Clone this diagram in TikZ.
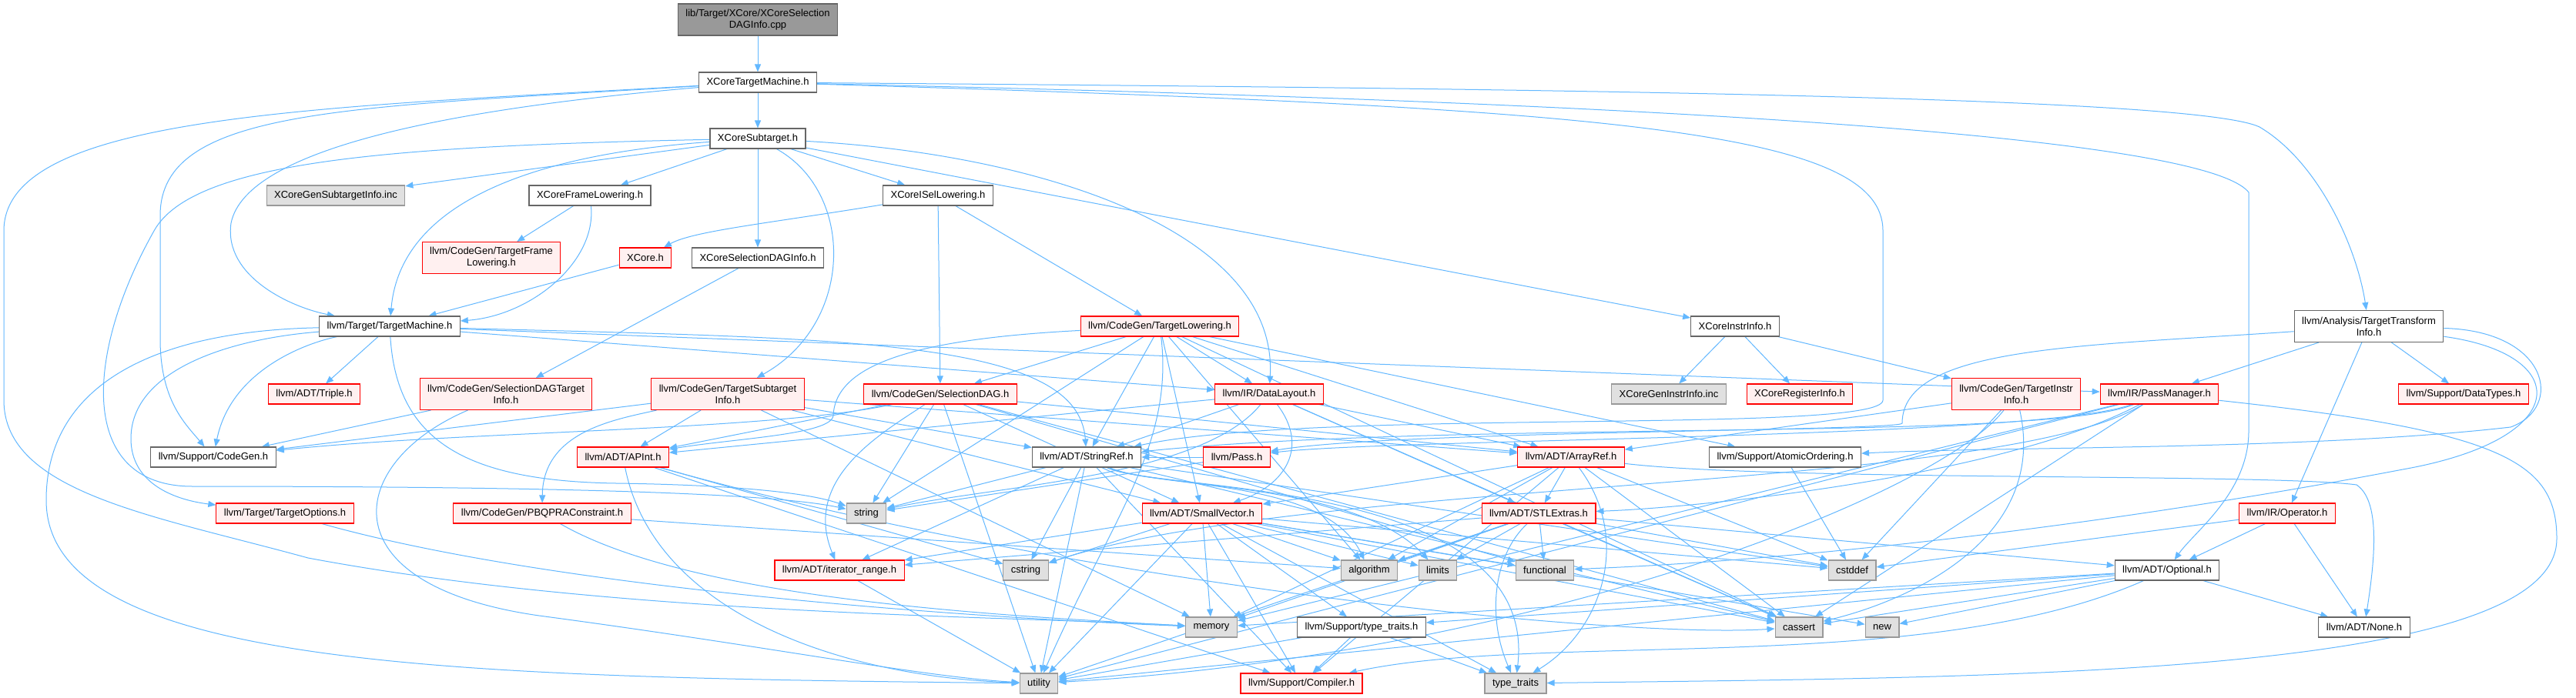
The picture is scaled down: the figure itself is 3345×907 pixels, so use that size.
\documentclass[tikz,border=0pt]{standalone}
\usepackage{fontspec}
\setmainfont{Liberation Sans}
\usepackage{tikz}
\usetikzlibrary{arrows.meta,backgrounds}
\definecolor{cEdge}{HTML}{63B8FF}
\definecolor{cRed}{HTML}{FF0000}
\definecolor{cRedFill}{HTML}{FFF0F0}
\definecolor{cSys}{HTML}{E0E0E0}
\definecolor{cSysLine}{HTML}{999999}
\definecolor{cLine}{HTML}{666666}
\definecolor{cRoot}{HTML}{999999}
\newcommand{\incfont}{\fontsize{13}{15}\selectfont}
\tikzset{
  hbase/.style={draw,align=center,font=\incfont,inner xsep=10pt,inner ysep=2pt,minimum height=26pt,line width=1.1pt},
  wnode/.style={hbase,fill=white,draw=cLine}, rnode/.style={hbase,fill=cRedFill,draw=cRed},
  snode/.style={hbase,fill=cSys,draw=cSysLine}, mnode/.style={hbase,fill=cRoot,draw=cLine},
  tall/.style={minimum height=41pt},
  inc/.style={-{Triangle[length=10pt,width=8pt]},draw=cEdge,line width=1pt}}

\begin{document}
\begin{tikzpicture}[x=1pt,y=-1pt]
\path[use as bounding box] (0,0) rectangle (3345,907);
\node[mnode,tall] (root) at (984,25.5) {lib/Target/XCore/XCoreSelection\\DAGInfo.cpp};
\node[wnode] (xtm) at (984,107) {XCoreTargetMachine.h};
\node[wnode] (xst) at (984,180) {XCoreSubtarget.h};
\node[snode] (gsti) at (436,254) {XCoreGenSubtargetInfo.inc};
\node[wnode] (xfl) at (766,254) {XCoreFrameLowering.h};
\node[wnode] (xisl) at (1218,254) {XCoreISelLowering.h};
\node[rnode,tall] (tfl) at (638,335) {llvm/CodeGen/TargetFrame\\Lowering.h};
\node[rnode] (xcore) at (838,335) {XCore.h};
\node[wnode] (xsdi) at (984,335) {XCoreSelectionDAGInfo.h};
\node[wnode] (tm) at (506,424) {llvm/Target/TargetMachine.h};
\node[rnode] (tl) at (1506,424) {llvm/CodeGen/TargetLowering.h};
\node[wnode] (xii) at (2253,424) {XCoreInstrInfo.h};
\node[wnode,tall] (tti) at (3076,424) {llvm/Analysis/TargetTransform\\Info.h};
\node[rnode] (triple) at (408,512) {llvm/ADT/Triple.h};
\node[rnode,tall] (sdti) at (657,512) {llvm/CodeGen/SelectionDAGTarget\\Info.h};
\node[rnode,tall] (tsi) at (945,512) {llvm/CodeGen/TargetSubtarget\\Info.h};
\node[rnode] (sdag) at (1221,512) {llvm/CodeGen/SelectionDAG.h};
\node[rnode] (dl) at (1648,512) {llvm/IR/DataLayout.h};
\node[snode] (gii) at (2167,512) {XCoreGenInstrInfo.inc};
\node[rnode] (xri) at (2337,512) {XCoreRegisterInfo.h};
\node[rnode,tall] (tii) at (2618,512) {llvm/CodeGen/TargetInstr\\Info.h};
\node[rnode] (pm) at (2804,512) {llvm/IR/PassManager.h};
\node[rnode] (dtypes) at (3199,512) {llvm/Support/DataTypes.h};
\node[wnode] (cg) at (277,594) {llvm/Support/CodeGen.h};
\node[rnode] (apint) at (809,594) {llvm/ADT/APInt.h};
\node[wnode] (sref) at (1411,594) {llvm/ADT/StringRef.h};
\node[rnode] (pass) at (1606,594) {llvm/Pass.h};
\node[rnode] (aref) at (2040,594) {llvm/ADT/ArrayRef.h};
\node[wnode] (atomic) at (2318,594) {llvm/Support/AtomicOrdering.h};
\node[rnode] (topt) at (370,667) {llvm/Target/TargetOptions.h};
\node[rnode] (pbqp) at (704,667) {llvm/CodeGen/PBQPRAConstraint.h};
\node[snode] (string) at (1125,667) {string};
\node[rnode] (svec) at (1561,667) {llvm/ADT/SmallVector.h};
\node[rnode] (stl) at (1998,667) {llvm/ADT/STLExtras.h};
\node[rnode] (oper) at (2970,667) {llvm/IR/Operator.h};
\node[rnode] (itr) at (1090,741) {llvm/ADT/iterator\_range.h};
\node[snode] (cstring) at (1332,741) {cstring};
\node[snode] (algo) at (1778,741) {algorithm};
\node[snode] (limits) at (1867,741) {limits};
\node[snode] (func) at (2006,741) {functional};
\node[snode] (cstddef) at (2405,741) {cstddef};
\node[wnode] (opt) at (2814,741) {llvm/ADT/Optional.h};
\node[snode] (memory) at (1573,815) {memory};
\node[wnode] (tt) at (1768,815) {llvm/Support/type\_traits.h};
\node[snode] (cassert) at (2336,815) {cassert};
\node[snode] (new) at (2444,815) {new};
\node[wnode] (none) at (3070,815) {llvm/ADT/None.h};
\node[snode] (utility) at (1349,888) {utility};
\node[rnode] (compiler) at (1690,888) {llvm/Support/Compiler.h};
\node[snode] (stdtt) at (1968,888) {type\_traits};
\begin{pgfonlayer}{background}
\fill[white] (0,0) rectangle (3345,907);
\draw[inc] (root)--(xtm); \draw[inc] (xtm)--(xst);
\draw[inc] (xtm) .. controls (600,140) and (320,190) .. (300,290) .. controls (290,360) and (380,400) .. (tm);
\draw[inc] (xtm) .. controls (450,140) and (208,140) .. (208,280) -- (208,440) .. controls (208,520) and (240,550) .. (cg);
\draw[inc] (xtm) .. controls (400,140) and (5,150) .. (5,300) -- (5,520) .. controls (5,640) and (200,670) .. (400,725) .. controls (800,800) and (1300,800) .. (memory);
\draw[inc] (xtm) .. controls (2000,115) and (2850,125) .. (2934,165) .. controls (3010,210) and (3060,320) .. (tti);
\draw[inc] (xtm) .. controls (1800,125) and (2850,160) .. (2920,250) -- (2920,560) .. controls (2920,640) and (2850,690) .. (opt);
\draw[inc] (xtm) .. controls (2100,140) and (2445,170) .. (2445,300) -- (2445,520) .. controls (2445,565) and (1700,530) .. (sref);
\draw[inc] (xst)--(gsti); \draw[inc] (xst)--(xfl); \draw[inc] (xst)--(xisl); \draw[inc] (xst)--(xsdi); \draw[inc] (xst)--(xii);
\draw[inc] (xst) .. controls (1110,250) and (1110,420) .. (tsi);
\draw[inc] (xst) .. controls (1350,200) and (1660,300) .. (dl);
\draw[inc] (xst) .. controls (700,200) and (520,260) .. (tm);
\draw[inc] (xst) .. controls (500,190) and (250,210) .. (200,300) .. controls (110,460) and (100,632) .. (250,632) .. controls (700,632) and (1000,640) .. (string);
\draw[inc] (xfl)--(tfl);
\draw[inc] (xfl) .. controls (775,340) and (690,410) .. (tm);
\draw[inc] (xisl) .. controls (1000,290) and (900,300) .. (xcore);
\draw[inc] (xisl)--(sdag); \draw[inc] (xisl)--(tl);
\draw[inc] (xcore)--(tm); \draw[inc] (xsdi)--(sdti);
\draw[inc] (tm)--(triple); \draw[inc] (tm)--(dl); \draw[inc] (tm)--(pm);
\draw[inc] (tm) .. controls (400,445) and (300,480) .. (cg);
\draw[inc] (tm) .. controls (300,440) and (170,480) .. (170,570) .. controls (170,630) and (230,650) .. (topt);
\draw[inc] (tm) .. controls (200,430) and (60,500) .. (60,650) .. controls (60,870) and (600,880) .. (utility);
\draw[inc] (tm) .. controls (1100,440) and (1400,440) .. (sref);
\draw[inc] (tm) .. controls (515,570) and (600,625) .. (800,628) .. controls (950,630) and (1050,640) .. (string);
\draw[inc] (tl)--(sdag); \draw[inc] (tl)--(dl); \draw[inc] (tl)--(sref); \draw[inc] (tl)--(svec);
\draw[inc] (tl)--(aref); \draw[inc] (tl)--(atomic); \draw[inc] (tl)--(algo); \draw[inc] (tl)--(cassert); \draw[inc] (tl)--(string);
\draw[inc] (tl) .. controls (1525,580) and (1440,680) .. (utility);
\draw[inc] (tl) .. controls (1200,440) and (1085,470) .. (1082,540) .. controls (1080,565) and (950,570) .. (apint);
\draw[inc] (tsi)--(apint); \draw[inc] (tsi)--(aref); \draw[inc] (tsi)--(svec); \draw[inc] (tsi)--(sref); \draw[inc] (tsi)--(cg); \draw[inc] (tsi)--(memory);
\draw[inc] (tsi) .. controls (800,545) and (705,560) .. (pbqp);
\draw[inc] (sdti)--(cg);
\draw[inc] (sdti) .. controls (450,600) and (420,760) .. (700,800) .. controls (1000,840) and (1200,880) .. (utility);
\draw[inc] (sdag)--(apint); \draw[inc] (sdag)--(aref); \draw[inc] (sdag)--(svec); \draw[inc] (sdag)--(cassert);
\draw[inc] (sdag)--(func); \draw[inc] (sdag)--(string); \draw[inc] (sdag)--(utility);
\draw[inc] (sdag) .. controls (1000,560) and (600,560) .. (cg);
\draw[inc] (sdag) .. controls (1150,560) and (1040,620) .. (itr);
\draw[inc] (dl)--(apint); \draw[inc] (dl)--(aref); \draw[inc] (dl)--(stl); \draw[inc] (dl)--(sref); \draw[inc] (dl)--(cassert);
\draw[inc] (dl) .. controls (1700,580) and (1670,630) .. (svec);
\draw[inc] (dl) .. controls (1560,620) and (1300,630) .. (string);
\draw[inc] (xii)--(xri); \draw[inc] (xii)--(gii); \draw[inc] (xii)--(tii);
\draw[inc] (tii)--(aref); \draw[inc] (tii)--(cstddef);
\draw[inc] (tii) .. controls (2660,700) and (2480,780) .. (cassert);
\draw[inc] (tii) .. controls (2520,640) and (2000,850) .. (utility);
\draw[inc] (pm)--(cassert); \draw[inc] (pm)--(memory); \draw[inc] (pm)--(utility);
\draw[inc] (pm) .. controls (2650,570) and (1800,570) .. (pass);
\draw[inc] (pm) .. controls (2650,575) and (1900,545) .. (sref);
\draw[inc] (pm) .. controls (2600,640) and (1700,620) .. (cstring);
\draw[inc] (pm) .. controls (2600,620) and (2200,660) .. (stl);
\draw[inc] (pm) .. controls (3250,560) and (3320,600) .. (3320,700) .. controls (3320,880) and (2600,880) .. (stdtt);
\draw[inc] (tti)--(pm); \draw[inc] (tti)--(dtypes); \draw[inc] (tti)--(oper);
\draw[inc] (tti) .. controls (2700,450) and (2470,450) .. (2470,550) .. controls (2470,560) and (1800,560) .. (pass);
\draw[inc] (tti) .. controls (3310,430) and (3330,530) .. (3260,555) .. controls (3000,585) and (2600,580) .. (atomic);
\draw[inc] (tti) .. controls (3340,460) and (3345,570) .. (3120,610) .. controls (2700,690) and (2300,730) .. (func);
\draw[inc] (oper)--(none); \draw[inc] (oper)--(opt); \draw[inc] (oper)--(cstddef);
\draw[inc] (opt)--(none); \draw[inc] (opt)--(tt); \draw[inc] (opt)--(cassert); \draw[inc] (opt)--(memory); \draw[inc] (opt)--(new); \draw[inc] (opt)--(utility);
\draw[inc] (opt) .. controls (2500,880) and (2000,820) .. (compiler);
\draw[inc] (pass)--(sref); \draw[inc] (pass)--(string);
\draw[inc] (apint)--(compiler); \draw[inc] (apint)--(cstring);
\draw[inc] (apint) .. controls (1400,760) and (2100,830) .. (cassert);
\draw[inc] (apint) .. controls (850,800) and (1100,880) .. (utility);
\draw[inc] (sref)--(itr); \draw[inc] (sref)--(compiler); \draw[inc] (sref)--(cassert); \draw[inc] (sref)--(cstddef);
\draw[inc] (sref)--(cstring); \draw[inc] (sref)--(string); \draw[inc] (sref)--(utility);
\draw[inc] (sref) .. controls (1500,635) and (1720,620) .. (algo);
\draw[inc] (sref) .. controls (1500,635) and (1760,625) .. (limits);
\draw[inc] (sref) .. controls (1500,640) and (2000,620) .. (stdtt);
\draw[inc] (svec)--(itr); \draw[inc] (svec)--(compiler); \draw[inc] (svec)--(tt); \draw[inc] (svec)--(algo); \draw[inc] (svec)--(cassert);
\draw[inc] (svec)--(cstddef); \draw[inc] (svec)--(cstring); \draw[inc] (svec)--(func); \draw[inc] (svec)--(limits); \draw[inc] (svec)--(memory);
\draw[inc] (svec)--(new); \draw[inc] (svec)--(stdtt); \draw[inc] (svec)--(utility);
\draw[inc] (stl)--(opt); \draw[inc] (stl)--(itr); \draw[inc] (stl)--(algo); \draw[inc] (stl)--(cassert); \draw[inc] (stl)--(cstddef);
\draw[inc] (stl)--(func); \draw[inc] (stl)--(limits); \draw[inc] (stl)--(memory); \draw[inc] (stl)--(utility);
\draw[inc] (stl) .. controls (1940,720) and (1930,800) .. (stdtt);
\draw[inc] (aref)--(stl); \draw[inc] (aref)--(svec); \draw[inc] (aref)--(compiler); \draw[inc] (aref)--(algo);
\draw[inc] (aref)--(cassert); \draw[inc] (aref)--(cstddef); \draw[inc] (aref)--(memory);
\draw[inc] (aref) .. controls (2300,625) and (2950,615) .. (3060,630) .. controls (3090,650) and (3085,720) .. (none);
\draw[inc] (aref) .. controls (2120,700) and (2080,820) .. (stdtt);
\draw[inc] (itr)--(utility);
\draw[inc] (tt)--(compiler); \draw[inc] (tt)--(stdtt); \draw[inc] (tt)--(utility);
\draw[inc] (atomic)--(cstddef);
\draw[inc] (pbqp)--(algo);
\draw[inc] (pbqp) .. controls (900,780) and (1300,800) .. (memory);
\draw[inc] (topt) .. controls (700,760) and (1200,800) .. (memory);
\end{pgfonlayer}
\end{tikzpicture}
\end{document}
